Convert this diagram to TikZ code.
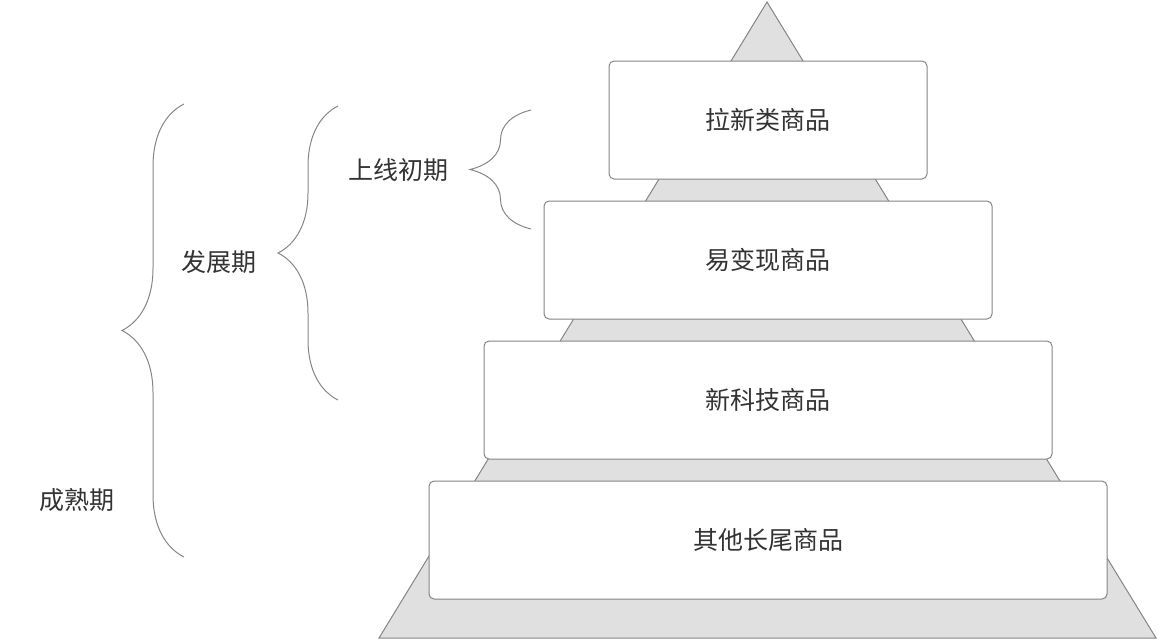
\documentclass[tikz,border=0pt]{standalone}
\usepackage{fontspec}
\newfontfamily\cjk{Noto Sans CJK SC}
\usetikzlibrary{positioning}
\usetikzlibrary{decorations.pathreplacing}
\usepackage{xcolor}
\definecolor{linegray}{HTML}{858585}
\definecolor{fillgray}{HTML}{E0E0E0}
\definecolor{textgray}{HTML}{333333}

\tikzset{
  tier/.style={draw=linegray, fill=white, line width=1pt, rounded corners=5pt,
    minimum height=118pt, inner sep=0pt, text=textgray,
    font=\cjk\fontsize{25}{30}\selectfont},
  stage/.style={text=textgray, inner sep=0pt, font=\cjk\fontsize{25}{30}\selectfont},
  curly/.style={draw=linegray, line width=1pt, decorate,
    decoration={brace, amplitude=#1}}
}

\begin{document}
\begin{tikzpicture}[x=1pt, y=-1pt, node distance=140pt, on grid]
    \useasboundingbox (0,0) rectangle (1158,640);
    % pyramid behind the boxes
    \draw[linegray, fill=fillgray, line width=1pt] (767,2) -- (1156,638) -- (379,638) -- cycle;

    \node[tier, minimum width=318pt] (t_1) at (768,120) {拉新类商品};
    \node[tier, minimum width=448pt] (t_2) [below=of t_1] {易变现商品};
    \node[tier, minimum width=568pt] (t_3) [below=of t_2] {新科技商品};
    \node[tier, minimum width=678pt] (t_4) [below=of t_3] {其他长尾商品};

    % braces for the stages
    \coordinate (b1_top) at (531,110);
    \coordinate (b1_bot) at (531,229);
    \coordinate (b2_top) at (338,106);
    \coordinate (b2_bot) at (338,400);
    \coordinate (b3_top) at (184,104);
    \coordinate (b3_bot) at (184,557);
    \draw[curly=61pt] (b1_bot) -- (b1_top);
    \draw[curly=60pt] (b2_bot) -- (b2_top);
    \draw[curly=62pt] (b3_bot) -- (b3_top);

    \node[stage] (s_1) at (398,170) {上线初期};
    \node[stage] (s_2) at (219,262) {发展期};
    \node[stage] (s_3) at (77,500) {成熟期};
\end{tikzpicture}
\end{document}
